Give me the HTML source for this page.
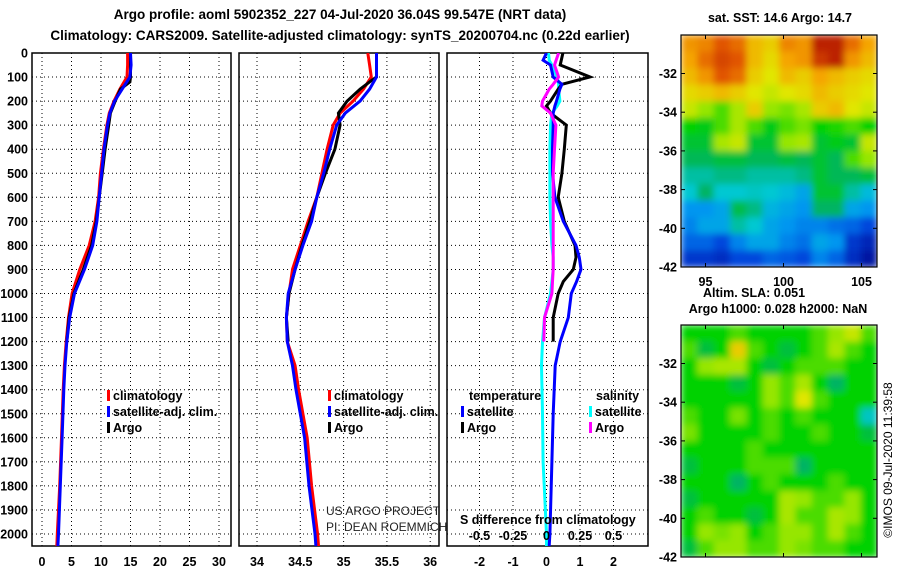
<!DOCTYPE html>
<html><head><meta charset="utf-8"><style>
html,body{margin:0;padding:0;background:#fff;width:900px;height:580px;overflow:hidden}
svg{display:block;font-family:"Liberation Sans",sans-serif}
.b{font-weight:bold;font-size:12.5px}
.t{font-weight:bold;font-size:13.5px}
</style></head><body>
<svg id="s" width="900" height="580" xmlns="http://www.w3.org/2000/svg">
<defs>
<clipPath id="c1"><rect x="32" y="53" width="199" height="493"/></clipPath>
<clipPath id="c2"><rect x="239" y="53" width="200" height="493"/></clipPath>
<clipPath id="c3"><rect x="447" y="53" width="201" height="493"/></clipPath>
<clipPath id="m1"><rect x="681" y="35" width="196" height="232"/></clipPath>
<clipPath id="m2"><rect x="681" y="325" width="196" height="232"/></clipPath>
<filter id="bl" x="0" y="0" width="1" height="1"><feGaussianBlur stdDeviation="3.5" edgeMode="duplicate"/></filter>
</defs>
<text x="340" y="19" text-anchor="middle" class="t">Argo profile: aoml 5902352_227 04-Jul-2020 36.04S 99.547E (NRT data)</text>
<text x="340" y="40" text-anchor="middle" class="t">Climatology: CARS2009. Satellite-adjusted climatology: synTS_20200704.nc (0.22d earlier)</text>
<text x="780" y="22" text-anchor="middle" class="b">sat. SST: 14.6 Argo: 14.7</text>
<text x="754" y="297" text-anchor="middle" class="b">Altim. SLA: 0.051</text>
<text x="778" y="313" text-anchor="middle" class="b">Argo h1000: 0.028 h2000: NaN</text>
<text transform="translate(892,460) rotate(-90)" text-anchor="middle" font-size="12">©IMOS 09-Jul-2020 11:39:58</text>
<g id="g"></g>
</svg>
<script>
// ---- profile data ----
const depthsT=[0,50,100,150,200,250,300,400,500,600,700,800,900,1000,1100,1200,1300,1400,1600,1800,2000,2050];
const tempClim=[14.5,14.5,14.4,13.2,12.2,11.4,11.0,10.4,9.9,9.6,9.0,8.0,6.4,5.1,4.5,4.1,3.8,3.6,3.3,3.0,2.6,2.5];
const tempSat=[15.0,15.1,14.9,13.6,12.3,11.5,11.1,10.5,10.1,9.7,9.3,8.6,7.2,5.5,4.7,4.2,3.9,3.7,3.4,3.1,2.8,2.7];
const depthsArgo=[0,50,100,120,150,200,250,300,400,500,600,700,800,900,1000,1100,1200];
const tempArgo=[15.0,15.0,15.0,14.9,13.3,12.4,11.6,11.3,10.7,10.2,9.7,9.2,8.4,7.0,5.4,4.6,4.2];
const salClim=[35.28,35.30,35.32,35.23,35.11,34.96,34.88,34.81,34.75,34.69,34.59,34.50,34.41,34.37,34.34,34.35,34.44,34.48,34.58,34.63,34.70,34.71];
const salSat=[35.38,35.38,35.38,35.30,35.19,35.02,34.92,34.84,34.77,34.69,34.63,34.53,34.44,34.36,34.34,34.35,34.41,34.45,34.55,34.60,34.67,34.68];
const salArgo=[35.38,35.38,35.38,35.30,35.19,35.04,34.94,34.96,34.90,34.79,34.69,34.61,34.52,34.44,34.37,34.34,34.36];
const depthsD=[0,30,50,100,130,150,200,220,250,300,400,500,600,700,800,850,900,950,1000,1100,1200,1300,1500,1700,2000,2050];
const dTsat=[0,-0.1,0.12,0.2,0.46,0.4,0.3,0.25,0.2,0.2,0.18,0.18,0.25,0.5,0.88,0.98,1.03,0.9,0.74,0.65,0.41,0.26,0.2,0.16,0.1,0.08];
const dSsat=[0.015,0.02,0.04,0.08,0.09,0.09,0.1,0.08,0.04,0.03,0.025,0.025,0.025,0.03,0.04,0.05,0.05,0.04,0.03,-0.015,-0.03,-0.037,-0.03,-0.025,0,0];
const depthsDA=[0,50,100,130,150,200,220,250,300,400,500,600,700,800,850,900,950,1000,1100,1200];
const dTargo=[0.49,0.41,1.3,0.46,0.35,0.12,0,0.12,0.59,0.53,0.46,0.35,0.53,0.85,0.88,0.8,0.5,0.35,0.2,0.2];
const dSargo=[0.09,0.06,0.09,0.05,0.02,-0.03,-0.035,0.03,0.07,0.06,0.05,0.05,0.05,0.05,0.05,0.05,0.045,0.04,-0.015,-0.02];
const depthTicks=[0,100,200,300,400,500,600,700,800,900,1000,1100,1200,1300,1400,1500,1600,1700,1800,1900,2000];
const tTicks=[0,5,10,15,20,25,30];
const sTicks=[34,34.5,35,35.5,36];
const dTicks=[-2,-1,0,1,2];
const dsTicks=[-0.5,-0.25,0,0.25,0.5];
const dsTickLabels=["-0.5","-0.25","0","0.25","0.5"];
// ---- map data (colormap fraction 0..1) ----
const sstRows=[
[.8,.82,.88,.85,.75,.72,.82,.8,.95,.95,.85,.78],
[.78,.85,.9,.88,.75,.7,.78,.8,.92,.95,.8,.75],
[.75,.8,.88,.85,.72,.68,.75,.72,.78,.75,.72,.7],
[.7,.72,.75,.72,.68,.65,.68,.7,.75,.72,.7,.68],
[.65,.6,.55,.62,.72,.6,.58,.62,.72,.75,.68,.65],
[.5,.48,.55,.62,.55,.48,.55,.58,.5,.52,.55,.5],
[.46,.46,.62,.65,.46,.46,.6,.62,.46,.48,.46,.65],
[.43,.43,.45,.45,.43,.43,.45,.43,.46,.43,.55,.6],
[.38,.38,.4,.4,.38,.38,.38,.4,.46,.43,.43,.45],
[.35,.42,.35,.35,.36,.35,.33,.3,.46,.46,.38,.33],
[.28,.28,.3,.44,.4,.32,.3,.28,.42,.42,.3,.28],
[.25,.3,.3,.38,.35,.3,.28,.25,.25,.22,.2,.15],
[.2,.2,.15,.25,.3,.3,.25,.22,.3,.28,.12,.08],
[.12,.12,.1,.15,.15,.2,.18,.15,.25,.2,.1,.04]];
const slaRows=[
[.5,.5,.5,.55,.5,.5,.5,.5,.55,.6,.65,.55],
[.55,.45,.5,.72,.55,.5,.45,.5,.55,.62,.55,.5],
[.5,.6,.62,.62,.5,.45,.5,.55,.55,.55,.5,.5],
[.5,.5,.5,.45,.5,.6,.55,.62,.5,.42,.5,.5],
[.5,.5,.5,.5,.5,.6,.55,.68,.55,.5,.5,.5],
[.55,.5,.5,.58,.5,.55,.5,.55,.5,.5,.5,.36],
[.58,.5,.5,.5,.5,.55,.5,.5,.55,.5,.5,.45],
[.5,.5,.5,.5,.55,.5,.5,.5,.5,.5,.5,.5],
[.45,.5,.5,.5,.55,.55,.55,.42,.5,.5,.5,.5],
[.5,.5,.5,.42,.5,.55,.5,.5,.5,.55,.5,.5],
[.45,.5,.5,.5,.5,.5,.62,.6,.55,.55,.6,.5],
[.5,.55,.5,.5,.45,.5,.62,.55,.55,.62,.6,.5],
[.5,.6,.58,.6,.5,.55,.6,.6,.55,.62,.55,.5],
[.45,.55,.6,.6,.55,.55,.6,.58,.55,.55,.5,.5]];
const latTicks=[-32,-34,-36,-38,-40,-42];
const lonTicks=[95,100,105];

const NS="http://www.w3.org/2000/svg";
const G=document.getElementById('g');
function mk(tag,attrs,parent){const e=document.createElementNS(NS,tag);for(const k in attrs)e.setAttribute(k,attrs[k]);(parent||G).appendChild(e);return e;}
const Y=d=>53+d*0.2405;
const X1=v=>42+v*5.9;
const X2=v=>257+(v-34)*86.6;
const X3=v=>546.5+v*33.5;
const X3s=v=>546.5+v*134;
const panels=[{l:32,r:231,X:X1,ticks:tTicks,n:'temperature'},{l:239,r:439,X:X2,ticks:sTicks,n:'salinity'},{l:447,r:648,X:X3,ticks:dTicks,n:'difference'}];
panels.forEach(p=>{
  const gp=mk('g',{});
  
  
  depthTicks.forEach(d=>{const l=mk('line',{x1:p.l,x2:p.r,y1:Y(d),y2:Y(d),stroke:'#000','stroke-width':1,'stroke-dasharray':'1 3'},gp);
    });
  p.ticks.forEach(t=>{const x=p.X(t);const l=mk('line',{x1:x,x2:x,y1:53,y2:546,stroke:'#000','stroke-width':1,'stroke-dasharray':'1 3'},gp);
    
    const tl=mk('text',{x:x,y:566,'text-anchor':'middle',class:'b'},gp);tl.textContent=String(t);
    });
  const fr=mk('rect',{x:p.l,y:53,width:p.r-p.l,height:493,fill:'none',stroke:'#000','stroke-width':1.5},gp);
  
});
depthTicks.forEach(d=>{const t=mk('text',{x:28,y:Y(d)+4.5,'text-anchor':'end',class:'b'});t.textContent=String(d);
  });
function line(ds,vs,X,col,clip,name){
  const pts=ds.map((d,i)=>X(vs[i]).toFixed(1)+','+Y(d).toFixed(1)).join(' ');
  const e=mk('polyline',{points:pts,fill:'none',stroke:col,'stroke-width':3,'clip-path':'url(#'+clip+')'});
  
}
line(depthsT,tempClim,X1,'#f00','c1','temp-climatology-line');
line(depthsArgo,tempArgo,X1,'#000','c1','temp-argo-line');
line(depthsT,tempSat,X1,'#00f','c1','temp-satellite-line');
line(depthsT,salClim,X2,'#f00','c2','sal-climatology-line');
line(depthsArgo,salArgo,X2,'#000','c2','sal-argo-line');
line(depthsT,salSat,X2,'#00f','c2','sal-satellite-line');
line(depthsD,dSsat,X3s,'#0ff','c3','dsal-satellite-line');
line(depthsDA,dTargo,X3,'#000','c3','dtemp-argo-line');
line(depthsD,dTsat,X3,'#00f','c3','dtemp-satellite-line');
line(depthsDA,dSargo,X3s,'#f0f','c3','dsal-argo-line');
function leg(x,y,col,txt,name){
  mk('rect',{x:x-6,y:y-10,width:3,height:11,fill:col});
  const t=mk('text',{x:x,y:y,class:'b'});t.textContent=txt;
  
}
leg(113,400,'#f00','climatology','legend-climatology');
leg(113,416,'#00f','satellite-adj. clim.','legend-satellite-adj');
leg(113,432,'#000','Argo','legend-argo');
leg(334,400,'#f00','climatology','legend-climatology-2');
leg(334,416,'#00f','satellite-adj. clim.','legend-satellite-adj-2');
leg(334,432,'#000','Argo','legend-argo-2');
leg(467,416,'#00f','satellite','legend-temp-satellite');
leg(467,432,'#000','Argo','legend-temp-argo');
leg(595,416,'#0ff','satellite','legend-sal-satellite');
leg(595,432,'#f0f','Argo','legend-sal-argo');
let t=mk('text',{x:469,y:400,class:'b'});t.textContent='temperature';

t=mk('text',{x:596,y:400,class:'b'});t.textContent='salinity';

t=mk('text',{x:460,y:524,class:'b'});t.textContent='S difference from climatology';

dsTicks.forEach((v,i)=>{const e=mk('text',{x:X3s(v),y:540,'text-anchor':'middle',class:'b'});e.textContent=dsTickLabels[i];
  });
t=mk('text',{x:326,y:515,'font-size':12,fill:'#222'});t.textContent='US ARGO PROJECT';

t=mk('text',{x:326,y:531,'font-size':12,fill:'#222'});t.textContent='PI: DEAN ROEMMICH';

// ---- maps ----
const cmapStops=[[0,[0,0,140]],[.15,[0,70,220]],[.28,[0,150,240]],[.35,[0,200,210]],[.42,[0,180,100]],[.5,[0,210,0]],[.6,[150,230,0]],[.68,[225,230,0]],[.78,[245,165,0]],[.88,[225,85,0]],[1,[160,0,0]]];
function cmap(v){
  for(let i=1;i<cmapStops.length;i++){const a=cmapStops[i-1],b=cmapStops[i];
    if(v<=b[0]){const f=(v-a[0])/(b[0]-a[0]);const c=a[1].map((x,k)=>Math.round(x+(b[1][k]-x)*f));return 'rgb('+c.join(',')+')';}}
  return 'rgb(160,0,0)';
}
const LON=v=>705.5+(v-95)*15.6;
function map(rows,top,name,showLon,clip){
  const gm=mk('g',{});
  
  
  const L=681,W=196,H=232,nr=rows.length,nc=rows[0].length,cw=W/nc,ch=H/nr;
  const cl=mk('g',{'clip-path':'url(#'+clip+')'},gm);
  const cells=mk('g',{filter:'url(#bl)'},cl);
  rows.forEach((row,i)=>row.forEach((v,j)=>{
    const r=mk('rect',{x:(L+j*cw).toFixed(2),y:(top+i*ch).toFixed(2),width:(cw+0.6).toFixed(2),height:(ch+0.6).toFixed(2),fill:cmap(v)},cells);
    
  }));
  mk('rect',{x:L,y:top,width:W,height:H,fill:'none',stroke:'#000','stroke-width':1.2},gm);
  latTicks.forEach(la=>{
    const yv=top+232-(la+42)*19.35;
    mk('line',{x1:L,x2:L+4,y1:yv,y2:yv,stroke:'#000'},gm);mk('line',{x1:L+W-4,x2:L+W,y1:yv,y2:yv,stroke:'#000'},gm);
    const e=mk('text',{x:677,y:yv+4.5,'text-anchor':'end',class:'b'},gm);e.textContent=String(la);
    });
  lonTicks.forEach(lo=>{const x=LON(lo);
    mk('line',{x1:x,x2:x,y1:top+H,y2:top+H-4,stroke:'#000'},gm);mk('line',{x1:x,x2:x,y1:top,y2:top+4,stroke:'#000'},gm);
    if(showLon){const e=mk('text',{x:x,y:top+H+19,'text-anchor':'middle',class:'b'},gm);e.textContent=String(lo);
      }});
}
map(sstRows,35,'sst-map',true,'m1');
map(slaRows,325,'sla-map',false,'m2');
</script>
</body></html>
